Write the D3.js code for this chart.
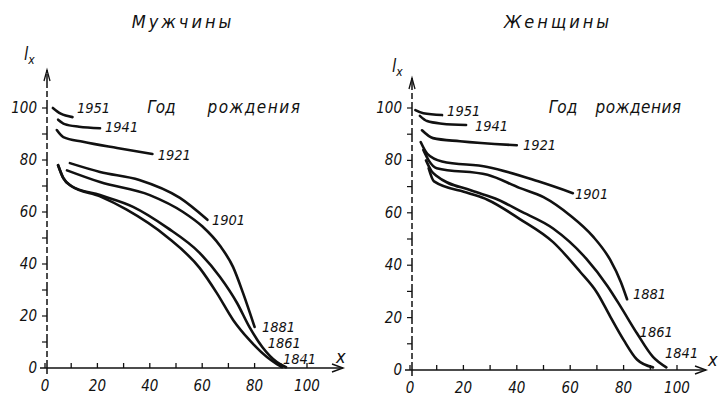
<!DOCTYPE html>
<html>
<head>
<meta charset="utf-8">
<script src="https://cdn.jsdelivr.net/npm/d3@7"></script>
<style>
  html, body { margin: 0; padding: 0; background: #fff; }
  svg { display: block; }
  text { font-family: "Liberation Sans Narrow", "DejaVu Sans Condensed", "DejaVu Sans", sans-serif; font-style: italic; fill: #111; }
</style>
</head>
<body>
<svg id="chart" width="721" height="397"></svg>
<script>
// Survival curves l_x (per 100 born) by year of birth, age x in years

const cohorts = ["1951", "1941", "1921", "1901", "1881", "1861", "1841"];
const yTicks = [0, 20, 40, 60, 80, 100];
const xTicks = [0, 20, 40, 60, 80, 100];
const panelTitles = ["Мужчины", "Женщины"];
const legendTitle = ["Год", "рождения"];

// Men: [age, l_x]
const men1951 = [[3, 100], [6, 97.8], [10.5, 96.5]];
const men1941 = [[5, 95.5], [7.5, 93.8], [13, 92.8], [21, 92.2]];
const men1921 = [[4.5, 91.5], [7, 88.8], [14.5, 87], [27.5, 84.6], [41, 82.3]];
const men1901 = [[9.5, 78.8], [21, 75.4], [36, 72.3], [51.5, 65.4], [62, 57]];
const men1881 = [[8.4, 76], [21, 71.5], [40, 66.5], [52.7, 60], [60, 54.5], [66.8, 47], [71.8, 38.8], [75.6, 28.8], [80, 15.8]];
const men1861 = [[5, 78], [7, 73], [10, 70], [21, 66.5], [33.6, 62], [46.6, 54], [59, 44.3], [66.8, 35], [73.3, 25], [78, 15.8], [83, 8], [88.5, 2.3], [92, 0.3]];
const men1841 = [[5, 78], [7, 73], [10, 70], [21, 66], [31, 61], [46.6, 50.4], [59, 38.5], [65.6, 28.8], [71.8, 18.5], [78, 10.8], [84.7, 4.2], [88.5, 1.5], [90.5, 0.3]];

// Women: [age, l_x]
const women1951 = [[2, 99.2], [5, 98], [12, 97.3]];
const women1941 = [[3.7, 97], [6.4, 95], [12, 94], [21, 93.5]];
const women1921 = [[4.5, 91.5], [8.6, 88.5], [18.7, 87.3], [40, 85.8]];
const women1901 = [[4, 87], [6.5, 82.5], [12, 79.6], [29, 77.5], [48, 72], [61, 67.5]];
const women1881 = [[5, 84], [7, 80], [10, 77], [29, 74.5], [41, 69.5], [50, 66], [60, 59], [68.5, 51], [75, 42], [79, 33.5], [81.3, 27]];
const women1861 = [[6, 80], [8, 76], [10, 74], [23, 68.5], [33, 65], [41, 60.8], [53.6, 54], [66, 42.5], [74, 32], [79, 24], [85, 14], [91, 5], [96, 1]];
const women1841 = [[7, 77], [9, 72], [22, 67.5], [29, 65], [41, 57.7], [53.6, 48.8], [63.7, 37.5], [70, 29.6], [75, 20.4], [80, 11.5], [85, 4], [91, 1]];

// Label anchors for each cohort, [age, l_x] of the text baseline start
const menLabelAt = [[12.2, 98], [22.9, 90.8], [43, 80], [63.7, 55], [82.8, 14], [85, 7.7], [90.8, 1.5]];
const womenLabelAt = [[13.9, 97], [24.3, 91.2], [42.3, 83.8], [61.8, 65.4], [83.5, 27], [86, 12.7], [95.5, 4.6]];

const menSeries = [men1951, men1941, men1921, men1901, men1881, men1861, men1841];
const womenSeries = [women1951, women1941, women1921, women1901, women1881, women1861, women1841];

const svg = d3.select("#chart");

function drawPanel(cfg) {
  const x = d3.scaleLinear().domain([0, 100]).range(cfg.xRange);
  const y = d3.scaleLinear().domain([0, 100]).range(cfg.yRange);
  const g = svg.append("g");
  const x0 = x(0), y0 = y(0);

  // x axis with arrow
  const xEnd = cfg.xArrow;
  g.append("line").attr("x1", x0 - 5).attr("x2", xEnd).attr("y1", y0).attr("y2", y0)
    .attr("stroke", "#111").attr("stroke-width", 1.6);
  g.append("path")
    .attr("d", `M${xEnd - 11},${y0 - 4} L${xEnd},${y0} L${xEnd - 11},${y0 + 4}`)
    .attr("fill", "none").attr("stroke", "#111").attr("stroke-width", 1.4);
  g.selectAll(".xt").data(d3.range(0, 101, 10)).join("line")
    .attr("x1", d => x(d)).attr("x2", d => x(d))
    .attr("y1", y0).attr("y2", y0 - 5)
    .attr("stroke", "#111").attr("stroke-width", 1.3);
  g.selectAll(".xl").data(xTicks).join("text")
    .attr("x", d => x(d)).attr("y", y0 + 23)
    .attr("text-anchor", "middle").attr("font-size", 15)
    .text(d => d);
  g.append("text").attr("x", cfg.xLabelPos[0]).attr("y", cfg.xLabelPos[1])
    .attr("font-size", 18).text("x");

  // y axis with arrow
  const yTop = cfg.yArrow;
  g.append("line").attr("x1", x0 + 2).attr("x2", x0 + 2).attr("y1", y0 + 6).attr("y2", yTop)
    .attr("stroke", "#111").attr("stroke-width", 1.5)
    .attr("stroke-dasharray", "14,3,6,3");
  g.append("path")
    .attr("d", `M${x0 - 1},${yTop + 11} L${x0 + 2},${yTop} L${x0 + 5},${yTop + 11}`)
    .attr("fill", "none").attr("stroke", "#111").attr("stroke-width", 1.3);
  g.selectAll(".yt").data(d3.range(10, 101, 10)).join("line")
    .attr("x1", x0 - 3).attr("x2", x0 + 2)
    .attr("y1", d => y(d)).attr("y2", d => y(d))
    .attr("stroke", "#111").attr("stroke-width", 1.2);
  g.selectAll(".yl").data(yTicks).join("text")
    .attr("x", x0 - 8).attr("y", d => y(d) + 5)
    .attr("text-anchor", "end").attr("font-size", 15)
    .text(d => d);
  const lx = g.append("text").attr("x", cfg.lxPos[0]).attr("y", cfg.lxPos[1]).attr("font-size", 17);
  lx.append("tspan").text("l");
  lx.append("tspan").attr("font-size", 12).attr("dy", 4).text("x");

  // panel title
  g.append("text").attr("x", cfg.titleX).attr("y", 28)
    .attr("text-anchor", "middle").attr("font-size", 18)
    .attr("letter-spacing", 3).text(cfg.title);

  // legend heading
  g.append("text").attr("x", x(cfg.legendAt[0])).attr("y", y(cfg.legendAt[1]))
    .attr("font-size", 17).text(legendTitle[0]);
  g.append("text").attr("x", x(cfg.legendAt[2])).attr("y", y(cfg.legendAt[1]))
    .attr("font-size", 17).attr("letter-spacing", cfg.legendSpacing).text(legendTitle[1]);

  // survival curves
  const line = d3.line()
    .x(d => x(d[0])).y(d => y(d[1]))
    .curve(d3.curveMonotoneX);
  g.selectAll(".curve").data(cfg.series).join("path")
    .attr("d", line)
    .attr("fill", "none").attr("stroke", "#111")
    .attr("stroke-width", 2.6).attr("stroke-linecap", "round");

  // cohort labels
  g.selectAll(".cl").data(cohorts).join("text")
    .attr("x", (d, i) => x(cfg.labelAt[i][0]))
    .attr("y", (d, i) => y(cfg.labelAt[i][1]))
    .attr("font-size", 14.5)
    .text(d => d);
}

drawPanel({
  xRange: [45, 307], yRange: [368, 108], xArrow: 343, yArrow: 70,
  xLabelPos: [336, 363],
  lxPos: [24, 60], titleX: 183, title: panelTitles[0],
  legendAt: [39, 98, 62], legendSpacing: 1.5,
  series: menSeries, labelAt: menLabelAt
});

drawPanel({
  xRange: [410, 677], yRange: [370, 108], xArrow: 706, yArrow: 78,
  xLabelPos: [708, 366],
  lxPos: [392, 72], titleX: 558, title: panelTitles[1],
  legendAt: [52, 98, 69.5], legendSpacing: 0.5,
  series: womenSeries, labelAt: womenLabelAt
});
</script>
</body>
</html>
